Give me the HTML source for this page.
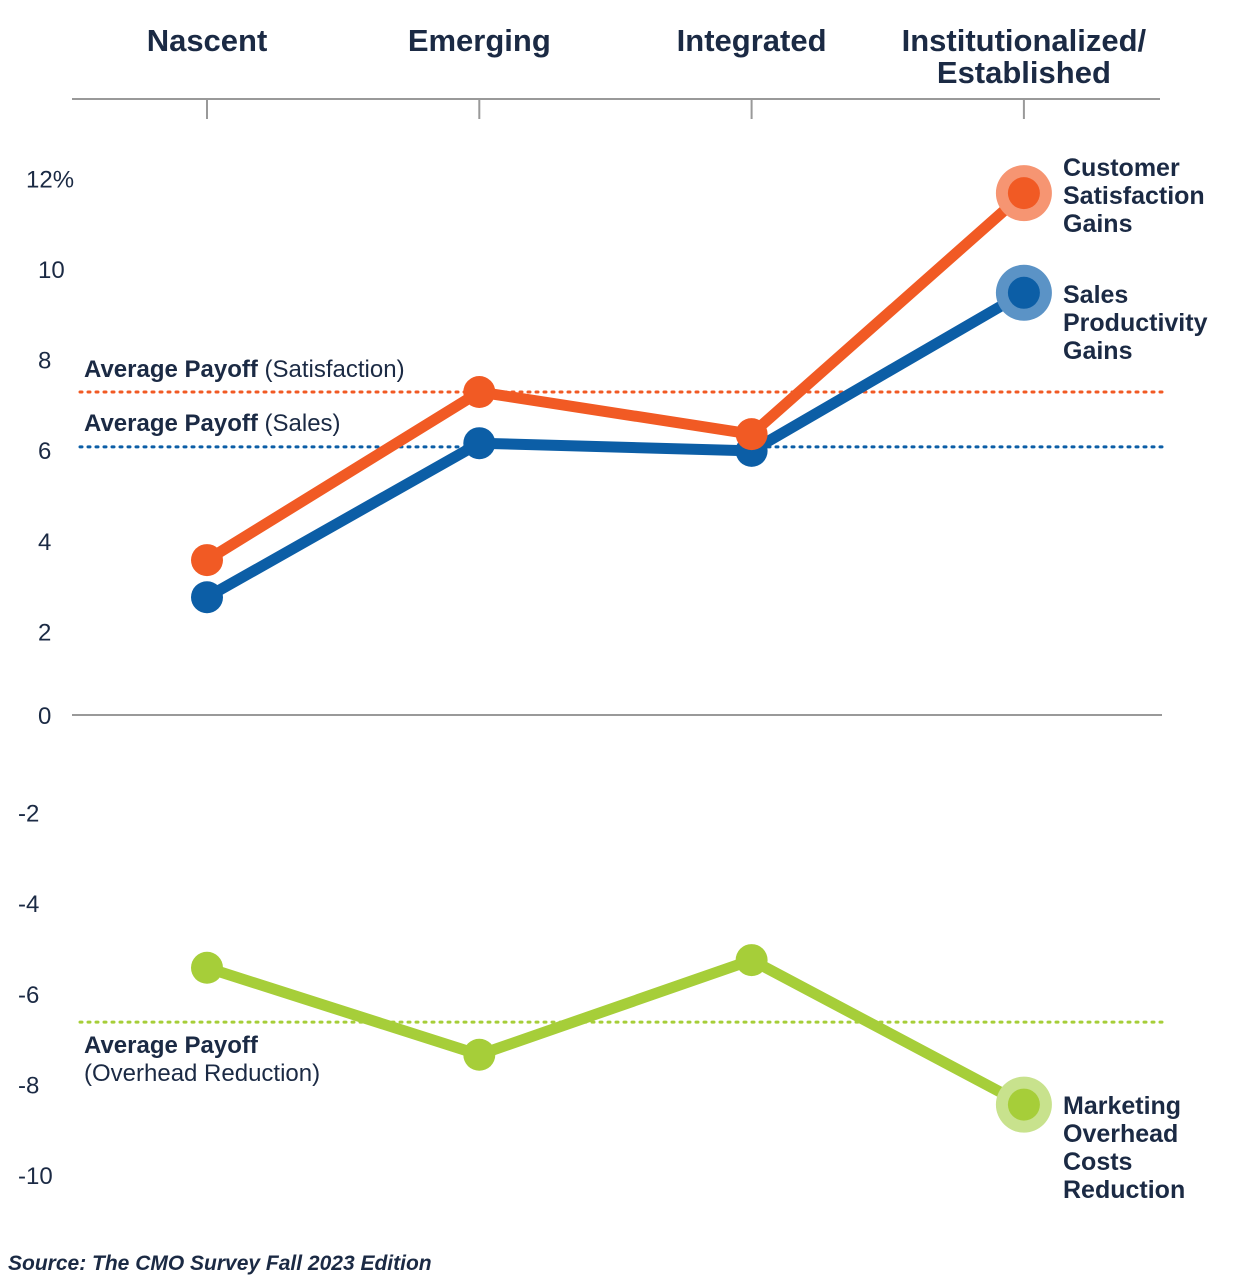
<!DOCTYPE html>
<html><head><meta charset="utf-8"><style>
html,body{margin:0;padding:0;background:#fff;}
svg{display:block;font-family:"Liberation Sans",sans-serif;}
</style></head><body>
<svg id="chart" width="1245" height="1281" viewBox="0 0 1245 1281"></svg>
<script>
const categories = ["Nascent","Emerging","Integrated","Institutionalized/|Established"];
const satisfaction = [3.42, 7.13, 6.2, 11.52];
const sales = [2.6, 6.0, 5.83, 9.32];
const overhead = [-5.58, -7.5, -5.41, -8.6];
const avgSatisfaction = 7.13;
const avgSales = 5.92;
const avgOverhead = -6.78;
const yTicks = [12,10,8,6,4,2,0,-2,-4,-6,-8,-10];

const NS="http://www.w3.org/2000/svg";
const svg=document.getElementById('chart');
const navy="#1b2a44";
function x(i){return 207+i*272.3;}
function y(v){return 715-v*45.3;}
function el(tag,attrs,parent){const e=document.createElementNS(NS,tag);for(const k in attrs)e.setAttribute(k,attrs[k]);(parent||svg).appendChild(e);return e;}
function txt(s,xx,yy,opts){const t=el('text',Object.assign({x:xx,y:yy,fill:navy,'font-size':26},opts||{}));t.textContent=s;return t;}

let ax=el('line',{x1:72,y1:99,x2:1160,y2:99,stroke:"#999","stroke-width":2});


categories.forEach((c,i)=>{
  const tk=el('line',{x1:x(i),y1:99,x2:x(i),y2:119,stroke:"#999","stroke-width":2});
  
  
  const parts=c.split('|');
  parts.forEach((p,j)=>{
    const t=txt(p,x(i),51+j*32,{'text-anchor':'middle','font-size':31,'font-weight':'bold'});
    
    
  });
});

yTicks.forEach(v=>{
  const t=txt(v===12?"12%":String(v),v===12?26:(v<0?18:38),y(v)+16-(v===0?7:0),{'font-size':24});
  
  
});
let zl=el('line',{x1:72,y1:y(0),x2:1162,y2:y(0),stroke:"#999","stroke-width":2});



function avg(v,color,name){
  const l=el('line',{x1:80,y1:y(v),x2:1162,y2:y(v),stroke:color,"stroke-width":3,"stroke-dasharray":"2 6","stroke-linecap":"round"});
  
  
}
avg(avgSatisfaction,"#f15a24","avg-satisfaction-line");
avg(avgSales,"#0c5ea6","avg-sales-line");
avg(avgOverhead,"#a6ce39","avg-overhead-line");

function avgLabel(lines,yy,name){
  const t=el('text',{x:84,y:yy,fill:navy,'font-size':24});
  
  
  lines.forEach((ln,j)=>{
    const ts=el('tspan',{x:84,dy:j?28:0},t);
    const b=el('tspan',{'font-weight':'bold'},ts);b.textContent=ln[0];
    const r=el('tspan',{},ts);r.textContent=ln[1];
  });
}
avgLabel([["Average Payoff"," (Satisfaction)"]],y(avgSatisfaction)-15,"avg-satisfaction-label");
avgLabel([["Average Payoff"," (Sales)"]],y(avgSales)-16,"avg-sales-label");
avgLabel([["Average Payoff",""],["","(Overhead Reduction)"]],y(avgOverhead)+31,"avg-overhead-label");

function series(vals,color,halo,name,labelLines,ly){
  const g=el('g',{});
  
  
  const pts=vals.map((v,i)=>x(i)+","+y(v)).join(" ");
  el('polyline',{points:pts,fill:"none",stroke:color,"stroke-width":11,"stroke-linejoin":"round"},g);
  const last=vals.length-1;
  el('circle',{cx:x(last),cy:y(vals[last]),r:28,fill:halo},g);
  vals.forEach((v,i)=>{
    const c=el('circle',{cx:x(i),cy:y(v),r:16,fill:color},g);
    
    
  });
  const t=el('text',{x:1063,y:ly,fill:navy,'font-size':25,'font-weight':'bold'});
  
  
  labelLines.forEach((s,j)=>{const ts=el('tspan',{x:1063,dy:j?28:0},t);ts.textContent=s;});
}
series(sales,"#0c5ea6","#5b93c6","sales",["Sales","Productivity","Gains"],303);
series(satisfaction,"#f15a24","#f69572","satisfaction",["Customer","Satisfaction","Gains"],176);
series(overhead,"#a6ce39","#c8e28d","overhead",["Marketing","Overhead","Costs","Reduction"],1114);

const src=txt("Source: The CMO Survey Fall 2023 Edition",8,1270,{'font-size':21,'font-style':'italic','font-weight':'bold'});


</script>
</body></html>
